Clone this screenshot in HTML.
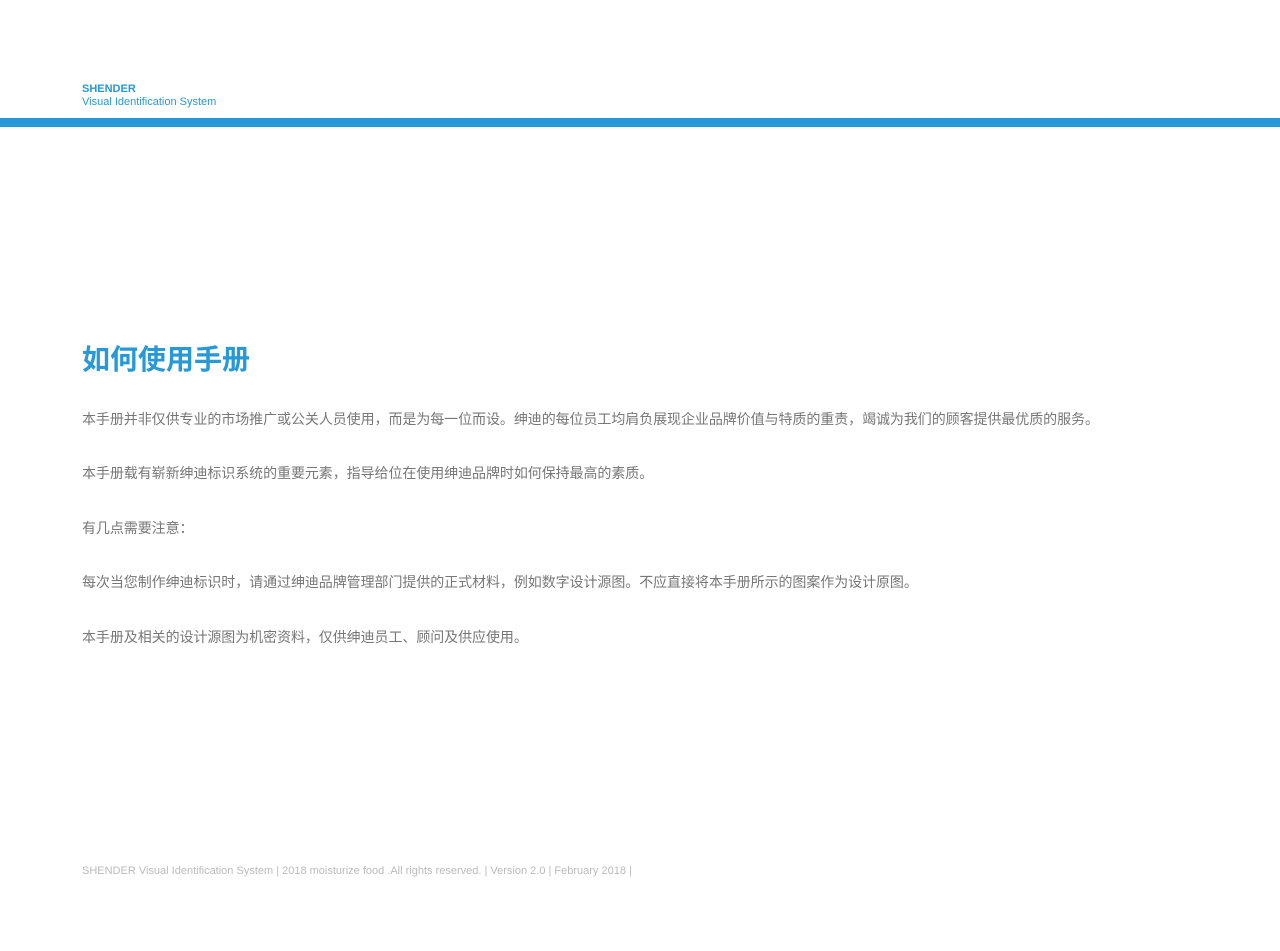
<!DOCTYPE html>
<html><head><meta charset="utf-8"><style>
body{margin:0;width:1280px;height:951px;background:#fff;position:relative;overflow:hidden;font-family:"Liberation Sans","Noto Sans CJK SC",sans-serif}
.a{position:absolute;white-space:nowrap}
.p{left:82px;font-size:14px;color:#777;line-height:20px;letter-spacing:-0.07px}
</style></head><body>
<div class="a" style="left:82px;top:82px;font-size:11px;font-weight:bold;color:#2799d6;line-height:14px">SHENDER</div>
<div class="a" style="left:82px;top:95px;font-size:11px;color:#2799d6;line-height:14px">Visual Identification System</div>
<div class="a" style="left:0;top:118px;width:1280px;height:9px;background:#2799d6"></div>
<div class="a" style="left:82px;top:340px;font-size:28px;font-weight:bold;color:#2799d6;line-height:40px">如何使用手册</div>
<div class="a p" style="top:409px">本手册并非仅供专业的市场推广或公关人员使用，而是为每一位而设。绅迪的每位员工均肩负展现企业品牌价值与特质的重责，竭诚为我们的顾客提供最优质的服务。</div>
<div class="a p" style="top:463px">本手册载有崭新绅迪标识系统的重要元素，指导给位在使用绅迪品牌时如何保持最高的素质。</div>
<div class="a p" style="top:518px">有几点需要注意：</div>
<div class="a p" style="top:572px">每次当您制作绅迪标识时，请通过绅迪品牌管理部门提供的正式材料，例如数字设计源图。不应直接将本手册所示的图案作为设计原图。</div>
<div class="a p" style="top:627px">本手册及相关的设计源图为机密资料，仅供绅迪员工、顾问及供应使用。</div>
<div class="a" style="left:82px;top:864px;font-size:11px;color:#bbb;line-height:14px">SHENDER Visual Identification System | 2018 moisturize food .All rights reserved. | Version 2.0 | February 2018 |</div>
</body></html>
